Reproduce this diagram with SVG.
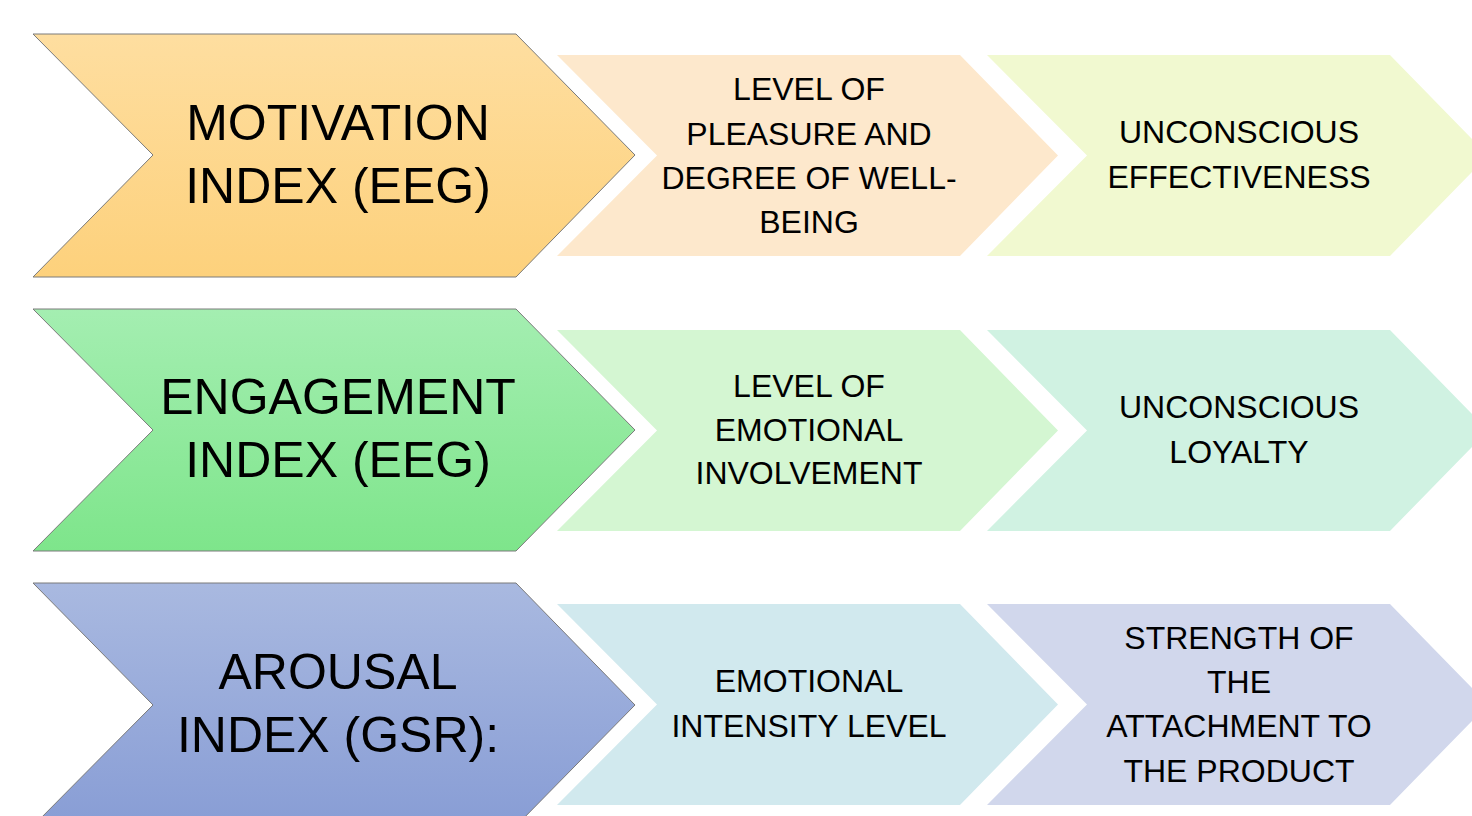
<svg xmlns="http://www.w3.org/2000/svg" width="1472" height="816" viewBox="0 0 1472 816">
  <defs>
    <linearGradient id="gOrange" x1="0" y1="0" x2="0" y2="1">
      <stop offset="0" stop-color="#fedea0"/>
      <stop offset="1" stop-color="#fdd17c"/>
    </linearGradient>
    <linearGradient id="gGreen" x1="0" y1="0" x2="0" y2="1">
      <stop offset="0" stop-color="#a4eeb1"/>
      <stop offset="1" stop-color="#7ee58b"/>
    </linearGradient>
    <linearGradient id="gBlue" x1="0" y1="0" x2="0" y2="1">
      <stop offset="0" stop-color="#a9b9e0"/>
      <stop offset="1" stop-color="#889dd5"/>
    </linearGradient>
    <style>
      .main { stroke: #7a7a7a; stroke-width: 1; }
      .big { font-family: "Liberation Sans", Arial, sans-serif; font-size: 50px; fill: #000; text-anchor: middle; }
      .small { font-family: "Liberation Sans", Arial, sans-serif; font-size: 32px; fill: #000; text-anchor: middle; }
    </style>
  </defs>

  <rect width="1472" height="816" fill="#ffffff"/>

  <!-- Row 1: motivation -->
  <g id="motivation">
    <path class="main" fill="url(#gOrange)" d="M33,34 H516 L635,155 L516,277 H33 L153,155 Z"/>
    <text class="big" x="338" y="140">MOTIVATION</text>
    <text class="big" x="338" y="203">INDEX (EEG)</text>
  </g>
  <g id="pleasure">
    <path fill="#fde8cc" d="M557,55 H960 L1058,155.5 L960,256 H557 L657,155.5 Z"/>
    <text class="small" x="809" y="100">LEVEL OF</text>
    <text class="small" x="809" y="145">PLEASURE AND</text>
    <text class="small" x="809" y="189">DEGREE OF WELL-</text>
    <text class="small" x="809" y="233">BEING</text>
  </g>
  <g id="effectiveness">
    <path fill="#f1f9d0" d="M987,55 H1390 L1488,155.5 L1390,256 H987 L1087,155.5 Z"/>
    <text class="small" x="1239" y="143">UNCONSCIOUS</text>
    <text class="small" x="1239" y="188">EFFECTIVENESS</text>
  </g>

  <!-- Row 2: engagement -->
  <g id="engagement">
    <path class="main" fill="url(#gGreen)" d="M33,309 H516 L635,430 L516,551 H33 L153,430 Z"/>
    <text class="big" x="338" y="414">ENGAGEMENT</text>
    <text class="big" x="338" y="477">INDEX (EEG)</text>
  </g>
  <g id="involvement">
    <path fill="#d4f6d2" d="M557,330 H960 L1058,430.5 L960,531 H557 L657,430.5 Z"/>
    <text class="small" x="809" y="397">LEVEL OF</text>
    <text class="small" x="809" y="441">EMOTIONAL</text>
    <text class="small" x="809" y="484">INVOLVEMENT</text>
  </g>
  <g id="loyalty">
    <path fill="#d0f2e2" d="M987,330 H1390 L1488,430.5 L1390,531 H987 L1087,430.5 Z"/>
    <text class="small" x="1239" y="418">UNCONSCIOUS</text>
    <text class="small" x="1239" y="463">LOYALTY</text>
  </g>

  <!-- Row 3: arousal -->
  <g id="arousal">
    <path class="main" fill="url(#gBlue)" d="M33,583 H516 L635,705 L516,826 H33 L153,705 Z"/>
    <text class="big" x="338" y="689">AROUSAL</text>
    <text class="big" x="338" y="752">INDEX (GSR):</text>
  </g>
  <g id="intensity">
    <path fill="#d1e9ee" d="M557,604 H960 L1058,704.5 L960,805 H557 L657,704.5 Z"/>
    <text class="small" x="809" y="692">EMOTIONAL</text>
    <text class="small" x="809" y="737">INTENSITY LEVEL</text>
  </g>
  <g id="attachment">
    <path fill="#d1d7ec" d="M987,604 H1390 L1488,704.5 L1390,805 H987 L1087,704.5 Z"/>
    <text class="small" x="1239" y="649">STRENGTH OF</text>
    <text class="small" x="1239" y="693">THE</text>
    <text class="small" x="1239" y="737">ATTACHMENT TO</text>
    <text class="small" x="1239" y="782">THE PRODUCT</text>
  </g>

  <!-- no connectors: the chevrons abut one another -->
  <g id="connectors"/>
</svg>
